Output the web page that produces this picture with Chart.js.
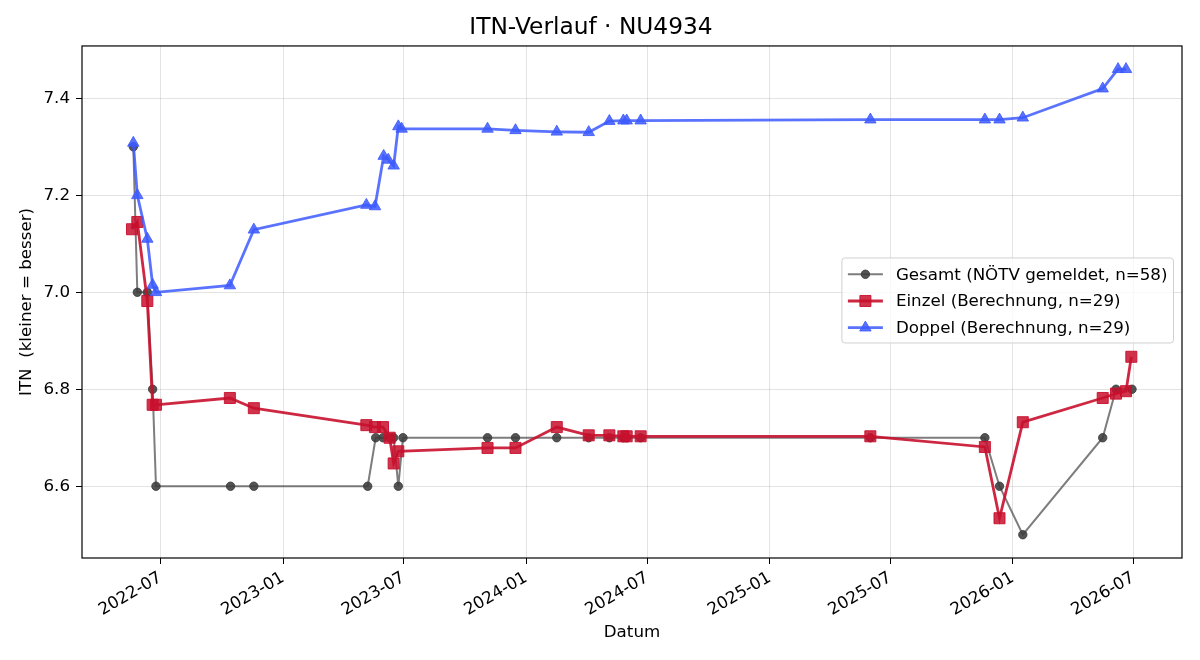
<!DOCTYPE html>
<html>
<head>
<meta charset="utf-8">
<title>ITN-Verlauf · NU4934</title>
<script src="https://cdn.jsdelivr.net/npm/chart.js@4.4.1/dist/chart.umd.min.js"></script>
<style>
  body { margin: 0; background: #fff; }
</style>
</head>
<body>
<canvas id="itnChart" width="1200" height="660"></canvas>
<script>
// values
var gesamtDates = ['2022-05-21', '2022-05-27', '2022-06-11', '2022-06-19', '2022-06-24', '2022-10-14', '2022-11-18',
    '2023-05-08', '2023-05-20', '2023-05-31', '2023-06-10', '2023-06-16', '2023-06-23', '2023-06-30',
    '2023-11-04', '2023-12-16', '2024-02-16', '2024-04-04', '2024-05-05', '2024-05-26', '2024-05-31', '2024-06-21',
    '2025-06-01', '2025-11-20', '2025-12-12', '2026-01-16', '2026-05-16', '2026-06-05', '2026-06-29'];
var gesamtItn = [7.3, 7.0, 7.0, 6.8, 6.6, 6.6, 6.6,
    6.6, 6.7, 6.7, 6.7, 6.7, 6.6, 6.7,
    6.7, 6.7, 6.7, 6.7, 6.7, 6.7, 6.7, 6.7,
    6.7, 6.7, 6.6, 6.5, 6.7, 6.8, 6.8];

var einzelDates = ['2022-05-19', '2022-05-27', '2022-06-11', '2022-06-19', '2022-06-24', '2022-10-13', '2022-11-18',
    '2023-05-06', '2023-05-19', '2023-05-31', '2023-06-10', '2023-06-16', '2023-06-23',
    '2023-11-04', '2023-12-16', '2024-02-16', '2024-04-04', '2024-05-05', '2024-05-26', '2024-05-31', '2024-06-21',
    '2025-06-01', '2025-11-20', '2025-12-12', '2026-01-16', '2026-05-16', '2026-06-05', '2026-06-20', '2026-06-28'];
var einzelItn = [7.13, 7.145, 6.982, 6.768, 6.768, 6.782, 6.761,
    6.726, 6.722, 6.722, 6.70, 6.647, 6.672,
    6.679, 6.679, 6.722, 6.705, 6.705, 6.703, 6.703, 6.703,
    6.703, 6.681, 6.534, 6.732, 6.782, 6.791, 6.796, 6.867];

var doppelDates = ['2022-05-21', '2022-05-27', '2022-06-11', '2022-06-19', '2022-06-24', '2022-10-13', '2022-11-18',
    '2023-05-06', '2023-05-19', '2023-06-01', '2023-06-08', '2023-06-16', '2023-06-23', '2023-06-28',
    '2023-11-04', '2023-12-16', '2024-02-16', '2024-04-04', '2024-05-05', '2024-05-26', '2024-05-31', '2024-06-21',
    '2025-06-01', '2025-11-20', '2025-12-12', '2026-01-16', '2026-05-16', '2026-06-08', '2026-06-20'];
var doppelItn = [7.308, 7.20, 7.11, 7.015, 7.0, 7.014, 7.129,
    7.18, 7.177, 7.281, 7.273, 7.261, 7.342, 7.337,
    7.337, 7.334, 7.331, 7.330, 7.353, 7.354, 7.354, 7.354,
    7.356, 7.356, 7.356, 7.36, 7.42, 7.46, 7.46];

var xTickLabels = ['2022-07', '2023-01', '2023-07', '2024-01', '2024-07', '2025-01', '2025-07', '2026-01', '2026-07'];
var yTicks = [6.6, 6.8, 7.0, 7.2, 7.4];

var FONT = '"DejaVu Sans", sans-serif';

// dates -> day numbers for the linear x axis (no date adapter offline)
function toDay(s) {
    var p = s.split('-');
    return Date.UTC(+p[0], +p[1] - 1, +(p[2] || 1)) / 86400000;
}
function toPoints(dates, vals) {
    return dates.map(function(d, i) { return { x: toDay(d), y: vals[i] }; });
}

// matplotlib-like 5% margins
var allX = gesamtDates.concat(einzelDates, doppelDates).map(toDay);
var allY = gesamtItn.concat(einzelItn, doppelItn);
var xLo = Math.min.apply(null, allX), xHi = Math.max.apply(null, allX);
var yLo = Math.min.apply(null, allY), yHi = Math.max.apply(null, allY);
var xPad = (xHi - xLo) * 0.05, yPad = (yHi - yLo) * 0.05;

function drawMarker(ctx, style, x, y, r) {
    ctx.beginPath();
    if (style === 'rect') {
        var s = r * Math.SQRT1_2;
        ctx.rect(x - s, y - s, 2 * s, 2 * s);
    } else if (style === 'triangle') {
        ctx.moveTo(x, y - r);
        ctx.lineTo(x + r * Math.sin(Math.PI * 2 / 3), y - r * Math.cos(Math.PI * 2 / 3));
        ctx.lineTo(x + r * Math.sin(Math.PI * 4 / 3), y - r * Math.cos(Math.PI * 4 / 3));
        ctx.closePath();
    } else {
        ctx.arc(x, y, r, 0, Math.PI * 2);
    }
    ctx.fill();
    ctx.stroke();
}

// frame round the plot and the legend inside it (center right)
var framePlugin = {
    id: 'frameAndLegend',
    afterDraw: function(chart) {
        var ctx = chart.ctx, a = chart.chartArea;
        ctx.save();
        ctx.strokeStyle = '#000';
        ctx.lineWidth = 1.2;
        ctx.strokeRect(a.left, a.top, a.right - a.left, a.bottom - a.top);

        var sets = chart.data.datasets;
        var fs = 16.7, rowH = 26.7;
        ctx.font = fs + 'px ' + FONT;
        var textW = Math.max.apply(null, sets.map(function(d) { return ctx.measureText(d.label).width; }));
        var w = 6 + 35 + 13 + textW + 6;
        var h = 16.3 + rowH * (sets.length - 1) + 15.3;
        var bx = a.right - 8.5 - w;
        var by = (a.top + a.bottom) / 2 - 1.5 - h / 2;
        ctx.beginPath();
        ctx.roundRect(bx, by, w, h, 3);
        ctx.fillStyle = 'rgba(255,255,255,0.8)';
        ctx.fill();
        ctx.strokeStyle = '#d0d0d0';
        ctx.lineWidth = 1;
        ctx.stroke();

        sets.forEach(function(d, i) {
            var cy = by + 16.3 + i * rowH;
            ctx.strokeStyle = d.borderColor;
            ctx.lineWidth = d.borderWidth;
            ctx.beginPath();
            ctx.moveTo(bx + 6, cy);
            ctx.lineTo(bx + 41, cy);
            ctx.stroke();
            ctx.fillStyle = d.pointBackgroundColor;
            ctx.strokeStyle = d.pointBorderColor;
            ctx.lineWidth = 1;
            drawMarker(ctx, d.pointStyle, bx + 23.5, cy, d.pointRadius);
            ctx.fillStyle = '#000';
            ctx.textBaseline = 'middle';
            ctx.textAlign = 'left';
            ctx.fillText(d.label, bx + 54, cy + 1);
        });
        ctx.restore();
    }
};

var ctx = document.getElementById('itnChart').getContext('2d');
var itnChart = new Chart(ctx, {
    type: 'line',
    data: {
        datasets: [{
            label: 'Gesamt (NÖTV gemeldet, n=58)',
            data: toPoints(gesamtDates, gesamtItn),
            borderColor: 'rgba(70,70,70,0.7)',
            borderWidth: 2,
            pointStyle: 'circle',
            pointRadius: 4.2,
            pointBackgroundColor: 'rgba(60,60,60,0.88)',
            pointBorderColor: 'rgba(60,60,60,0.88)',
            pointBorderWidth: 1,
            tension: 0,
            order: 3
        }, {
            label: 'Einzel (Berechnung, n=29)',
            data: toPoints(einzelDates, einzelItn),
            borderColor: 'rgba(200,16,46,0.9)',
            borderWidth: 2.8,
            pointStyle: 'rect',
            pointRadius: 7.8,
            pointBackgroundColor: 'rgba(200,16,46,0.85)',
            pointBorderColor: 'rgba(200,16,46,0.9)',
            pointBorderWidth: 1,
            tension: 0,
            order: 2
        }, {
            label: 'Doppel (Berechnung, n=29)',
            data: toPoints(doppelDates, doppelItn),
            borderColor: 'rgba(61,90,254,0.85)',
            borderWidth: 2.8,
            pointStyle: 'triangle',
            pointRadius: 6.6,
            pointBackgroundColor: 'rgba(61,90,254,0.85)',
            pointBorderColor: 'rgba(61,90,254,0.85)',
            pointBorderWidth: 1,
            tension: 0,
            order: 1
        }]
    },
    options: {
        responsive: false,
        animation: false,
        layout: { padding: { left: 0, right: 18, top: 0, bottom: 0 } },
        plugins: {
            legend: { display: false },
            tooltip: { enabled: false },
            title: {
                display: true,
                text: 'ITN-Verlauf · NU4934',
                color: '#000',
                font: { family: FONT, size: 23.3, weight: 'normal' },
                padding: { top: 14, bottom: 4 }
            }
        },
        scales: {
            x: {
                type: 'linear',
                min: xLo - xPad,
                max: xHi + xPad,
                afterFit: function(scale) { scale.height = 102; },
                afterBuildTicks: function(scale) {
                    scale.ticks = xTickLabels.map(function(l) { return { value: toDay(l) }; });
                },
                grid: { color: 'rgba(176,176,176,0.35)', lineWidth: 1, tickColor: '#000', tickLength: 6 },
                border: { display: false },
                ticks: {
                    color: '#000',
                    font: { family: FONT, size: 16.7 },
                    minRotation: 30,
                    maxRotation: 30,
                    padding: 4,
                    callback: function(v, i) { return xTickLabels[i]; }
                },
                title: {
                    display: true,
                    text: 'Datum',
                    color: '#000',
                    font: { family: FONT, size: 16.7 },
                    padding: { top: 17, bottom: 17 }
                }
            },
            y: {
                min: yLo - yPad,
                max: yHi + yPad,
                afterFit: function(scale) { scale.width = 82; },
                afterBuildTicks: function(scale) {
                    scale.ticks = yTicks.map(function(v) { return { value: v }; });
                },
                grid: { color: 'rgba(176,176,176,0.35)', lineWidth: 1, tickColor: '#000', tickLength: 6 },
                border: { display: false },
                ticks: {
                    color: '#000',
                    font: { family: FONT, size: 16.7 },
                    padding: 6,
                    callback: function(v) { return v.toFixed(1); }
                },
                title: {
                    display: true,
                    text: 'ITN  (kleiner = besser)',
                    color: '#000',
                    font: { family: FONT, size: 16.7 },
                    padding: { top: 17, bottom: 17 }
                }
            }
        }
    },
    plugins: [framePlugin]
});
</script>
</body>
</html>
